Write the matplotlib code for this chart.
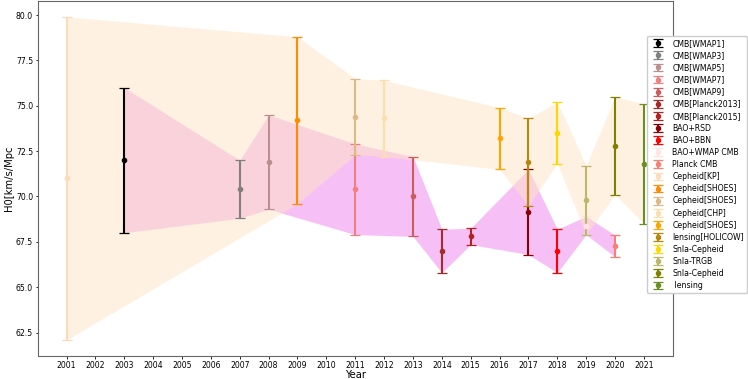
import matplotlib
matplotlib.use("Agg")
from matplotlib import pyplot as plt

labels = ['CMB[WMAP1]', 'CMB[WMAP3]', 'CMB[WMAP5]', 'CMB[WMAP7]', 'CMB[WMAP9]',
          'CMB[Planck2013]', 'CMB[Planck2015]', 'BAO+RSD', 'BAO+BBN', 'BAO+WMAP CMB',
          'Planck CMB', 'Cepheid[KP]', 'Cepheid[SHOES]', 'Cepheid[SHOES]', 'Cepheid[CHP]',
          'Cepheid[SHOES]', 'lensing[HOLICOW]', 'SnIa-Cepheid', 'SnIa-TRGB', 'SnIa-Cepheid',
          ' lensing']
years = [2003, 2007, 2008, 2011, 2013, 2014, 2015, 2017, 2018, 2019,
         2020, 2001, 2009, 2011, 2012, 2016, 2017, 2018, 2019, 2020, 2021]
h0 = [72.0, 70.4, 71.9, 70.4, 70.0, 67.0, 67.8, 69.15, 67.0, 68.4,
      67.27, 71.0, 74.2, 74.4, 74.3, 73.2, 71.9, 73.5, 69.8, 72.8, 71.8]
h0_err = [4.0, 1.6, 2.6, 2.5, 2.2, 1.2, 0.45, 2.35, 1.2, 0.5,
          0.6, 8.9, 4.6, 2.1, 2.1, 1.7, 2.4, 1.7, 1.9, 2.7, 3.3]

# which measurements make up each shaded band
early_idx = [0, 1, 2, 3, 4, 5, 6, 7, 8, 9, 10]
late_idx = [11, 12, 13, 14, 15, 16, 17, 18, 19, 20]

colors = ['black', 'gray', 'rosybrown', 'lightcoral', 'indianred',
          'brown', 'firebrick', 'darkred', 'red', 'mistyrose',
          'salmon', 'peachpuff', 'darkorange', 'burlywood', 'navajowhite',
          'orange', 'darkgoldenrod', 'gold', 'darkkhaki', 'olive', 'olivedrab']


def band(idx):
    pts = sorted((years[i], h0[i] - h0_err[i], h0[i] + h0_err[i]) for i in idx)
    return [p[0] for p in pts], [p[1] for p in pts], [p[2] for p in pts]


fig = plt.figure(figsize=(7.48, 3.79), dpi=100)
ax = fig.add_axes([0.0504, 0.0607, 0.849, 0.9375])

x, lo, hi = band(early_idx)
ax.fill_between(x, lo, hi, color='violet', alpha=0.5, linewidth=0)
x, lo, hi = band(late_idx)
ax.fill_between(x, lo, hi, color='bisque', alpha=0.5, linewidth=0)

for lab, yr, v, e, c in zip(labels, years, h0, h0_err, colors):
    ax.errorbar(yr, v, yerr=e, fmt='o', color=c, ecolor=c, markersize=3,
                elinewidth=1.5, capsize=3.8, capthick=0.9, label=lab)

ax.set_xticks(range(2001, 2022))
ax.tick_params(axis='both', labelsize=5.6, length=1.8, width=0.6, pad=1.5)
ax.set_xlabel('Year', fontsize=7.2, labelpad=0)
ax.set_ylabel('H0[km/s/Mpc', fontsize=7.2, labelpad=1.5)
for s in ax.spines.values():
    s.set_color('0.4')
    s.set_linewidth(0.8)

ax.legend(loc='upper left', bbox_to_anchor=(0.96, 0.901), borderaxespad=0,
          fontsize=5.6, labelspacing=0.4, handlelength=2.0, handletextpad=0.8,
          framealpha=1.0)

fig.savefig('out.png', dpi=100)
